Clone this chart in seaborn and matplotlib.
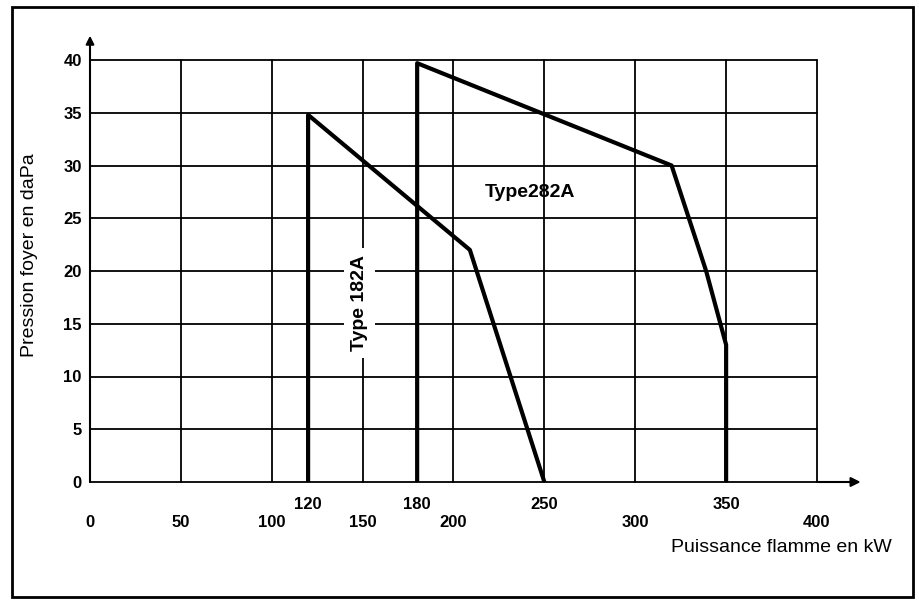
"""
Plage de fonctionnement des brûleurs Type 182A / Type 282A.
Pression foyer (daPa) en fonction de la puissance flamme (kW).
"""
import matplotlib
matplotlib.use('Agg')
import matplotlib.pyplot as plt
from matplotlib.patches import Rectangle
import pandas as pd
import seaborn as sns

# --- data ---
type182_kw = [120, 120, 209, 250]
type182_pa = [0, 34.8, 22, 0]

type282_kw = [180, 180, 320, 339, 350, 350]
type282_pa = [0, 39.7, 30, 20, 13, 0]

x_major = [0, 50, 100, 150, 200, 250, 300, 350, 400]
x_major_labels = ['0', '50', '100', '150', '200', '', '300', '', '400']
x_special = [120, 180, 250, 350]
y_ticks = [0, 5, 10, 15, 20, 25, 30, 35, 40]

sns.set_style('white')
plt.rcParams['font.family'] = ['Liberation Sans', 'DejaVu Sans']
plt.rcParams['text.color'] = 'black'
plt.rcParams['xtick.color'] = 'black'
plt.rcParams['ytick.color'] = 'black'

W, H = 920, 602
fig = plt.figure(figsize=(W / 100, H / 100), dpi=100)
ax = fig.add_axes([90 / W, (H - 482) / H, (817 - 90) / W, (482 - 60) / H])

df = pd.concat([
    pd.DataFrame({'kw': type182_kw, 'pa': type182_pa, 'type': 'Type 182A'}),
    pd.DataFrame({'kw': type282_kw, 'pa': type282_pa, 'type': 'Type 282A'}),
])
sns.lineplot(data=df, x='kw', y='pa', units='type', estimator=None, sort=False,
             color='black', linewidth=3, ax=ax, zorder=3)

ax.set_xlim(0, 400)
ax.set_ylim(0, 40)

# grid
for v in x_major:
    ax.axvline(v, color='black', linewidth=1.3, zorder=1, clip_on=False)
for v in y_ticks:
    ax.axhline(v, color='black', linewidth=1.3, zorder=1, clip_on=False)
for s in ax.spines.values():
    s.set_visible(False)

# ticks: lower row (every 50) and upper row (curve values)
ax.xaxis.remove_overlapping_locs = False
ax.set_xticks(x_major)
ax.set_xticklabels(x_major_labels, fontsize=12, fontweight='bold')
ax.set_xticks(x_special, minor=True)
ax.set_xticklabels([str(v) for v in x_special], minor=True, fontsize=12, fontweight='bold')
ax.tick_params(axis='x', which='major', length=0, pad=24)
ax.tick_params(axis='x', which='minor', length=0, pad=11)
ax.set_yticks(y_ticks)
ax.set_yticklabels([str(v) for v in y_ticks], fontsize=12, fontweight='bold')
ax.tick_params(axis='y', length=0, pad=6)
ax.set_xlabel('')
ax.set_ylabel('')

# axes arrows
ax.annotate('', xy=(424, 0), xytext=(400, 0), xycoords='data',
            arrowprops=dict(arrowstyle='-|>', color='black', lw=1.5, mutation_scale=14,
                            shrinkA=0, shrinkB=0),
            annotation_clip=False)
ax.annotate('', xy=(0, 42.3), xytext=(0, 0), xycoords='data',
            arrowprops=dict(arrowstyle='-|>', color='black', lw=1.5, mutation_scale=12,
                            shrinkA=0, shrinkB=0),
            annotation_clip=False)

# curve labels
ax.text(242, 27.4, 'Type282A', fontsize=14, fontweight='bold', ha='center', va='center',
        zorder=4)
ax.text(148.5, 17, 'Type 182A', fontsize=14, fontweight='bold', ha='center', va='center',
        rotation=90, zorder=4,
        bbox=dict(facecolor='white', edgecolor='none', pad=5))

# axis titles
fig.text(892 / W, 1 - 548 / H, 'Puissance flamme en kW', fontsize=14,
         ha='right', va='center')
fig.text(30 / W, 1 - 255 / H, 'Pression foyer en daPa', fontsize=14,
         ha='center', va='center', rotation=90)

# outer frame
fig.patches.append(Rectangle((12 / W, 1 - 597 / H), (913 - 12) / W, (597 - 7) / H,
                             transform=fig.transFigure, fill=False,
                             edgecolor='black', linewidth=2))

fig.savefig('out.png', dpi=100)
plt.close(fig)
